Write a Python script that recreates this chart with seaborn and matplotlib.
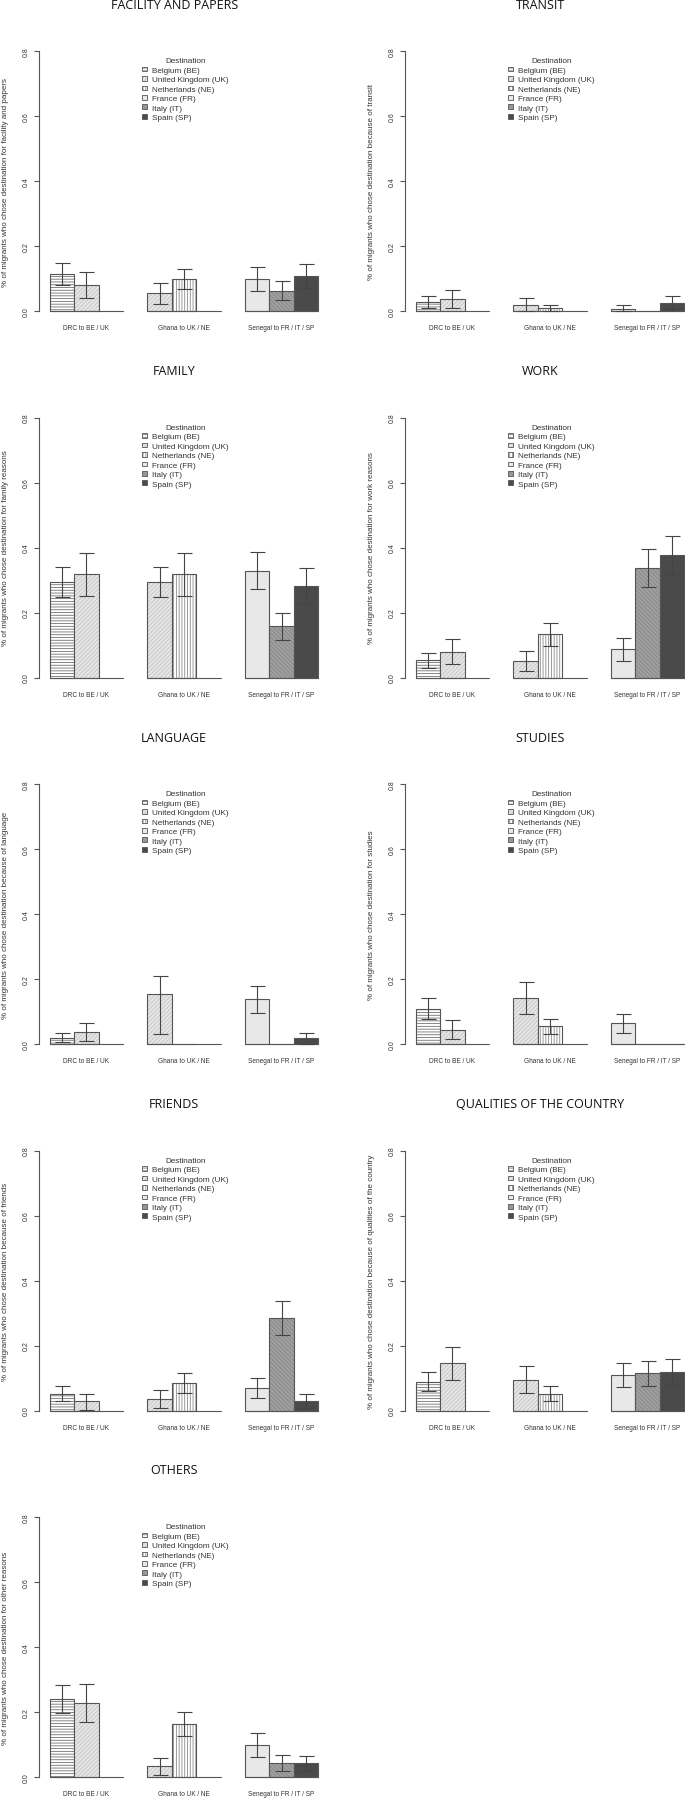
import numpy as np
import pandas as pd
import matplotlib
matplotlib.use("Agg")
import matplotlib.pyplot as plt
from matplotlib.patches import Patch
from matplotlib.colors import to_rgba
import seaborn as sns

sns.set_style("white")
plt.rcParams['font.family'] = ['Liberation Sans', 'DejaVu Sans']
plt.rcParams['hatch.linewidth'] = 0.6

groups = ["DRC to BE / UK", "Ghana to UK / NE", "Senegal to FR / IT / SP"]
destinations = ["Belgium (BE)", "United Kingdom (UK)", "Netherlands (NE)",
                "France (FR)", "Italy (IT)", "Spain (SP)"]

# one entry per bar: which origin group, which slot in the group, which destination
bar_group = [0, 0, 1, 1, 2, 2, 2]
bar_slot = [0, 1, 0, 1, 0, 1, 2]
bar_dest = [0, 1, 1, 2, 3, 4, 5]

titles = ["FACILITY AND PAPERS", "TRANSIT", "FAMILY", "WORK", "LANGUAGE",
          "STUDIES", "FRIENDS", "QUALITIES OF THE COUNTRY", "OTHERS"]
ylabels = [
    "% of migrants who chose destination for facility and papers",
    "% of migrants who chose destination because of transit",
    "% of migrants who chose destination for family reasons",
    "% of migrants who chose destination for work reasons",
    "% of migrants who chose destination because of language",
    "% of migrants who chose destination for studies",
    "% of migrants who chose destination because of friends",
    "% of migrants who chose destination because of qualities of the country",
    "% of migrants who chose destination for other reasons",
]

yticks = [0.0, 0.2, 0.4, 0.6, 0.8]
ytick_labels = ["0.0", "0.2", "0.4", "0.6", "0.8"]

# shares with lower / upper bounds (nan = no error bar)
facility = [0.114, 0.081, 0.054, 0.098, 0.098, 0.063, 0.107]
facility_lo = [0.081, 0.041, 0.023, 0.068, 0.062, 0.034, 0.071]
facility_hi = [0.148, 0.119, 0.086, 0.129, 0.136, 0.091, 0.144]

transit = [0.029, 0.037, 0.018, 0.009, 0.007, 0.0, 0.026]
transit_lo = [0.010, 0.010, 0.0, 0.0, 0.0, np.nan, 0.006]
transit_hi = [0.047, 0.065, 0.039, 0.018, 0.017, np.nan, 0.045]

family = [0.295, 0.318, 0.295, 0.318, 0.327, 0.159, 0.281]
family_lo = [0.249, 0.252, 0.249, 0.252, 0.271, 0.115, 0.226]
family_hi = [0.340, 0.384, 0.340, 0.384, 0.385, 0.199, 0.336]

work = [0.053, 0.079, 0.051, 0.134, 0.087, 0.338, 0.376]
work_lo = [0.029, 0.042, 0.020, 0.098, 0.052, 0.280, 0.318]
work_hi = [0.075, 0.118, 0.083, 0.168, 0.122, 0.394, 0.435]

language = [0.018, 0.038, 0.155, 0.0, 0.137, 0.0, 0.017]
language_lo = [0.005, 0.009, 0.030, np.nan, 0.095, np.nan, 0.001]
language_hi = [0.034, 0.064, 0.208, np.nan, 0.179, np.nan, 0.033]

studies = [0.108, 0.043, 0.142, 0.056, 0.064, 0.0, 0.0]
studies_lo = [0.078, 0.014, 0.092, 0.031, 0.034, np.nan, np.nan]
studies_hi = [0.141, 0.073, 0.191, 0.077, 0.093, np.nan, np.nan]

friends = [0.051, 0.029, 0.036, 0.084, 0.069, 0.284, 0.030]
friends_lo = [0.028, 0.003, 0.008, 0.055, 0.038, 0.231, 0.008]
friends_hi = [0.074, 0.051, 0.062, 0.114, 0.099, 0.338, 0.050]

qualities = [0.089, 0.145, 0.095, 0.052, 0.109, 0.114, 0.120]
qualities_lo = [0.060, 0.095, 0.053, 0.029, 0.072, 0.076, 0.079]
qualities_hi = [0.118, 0.195, 0.138, 0.075, 0.147, 0.151, 0.159]

others = [0.240, 0.227, 0.033, 0.162, 0.099, 0.044, 0.043]
others_lo = [0.196, 0.168, 0.007, 0.126, 0.061, 0.018, 0.018]
others_hi = [0.282, 0.286, 0.058, 0.200, 0.136, 0.067, 0.066]

panels = [
    (facility, facility_lo, facility_hi),
    (transit, transit_lo, transit_hi),
    (family, family_lo, family_hi),
    (work, work_lo, work_hi),
    (language, language_lo, language_hi),
    (studies, studies_lo, studies_hi),
    (friends, friends_lo, friends_hi),
    (qualities, qualities_lo, qualities_hi),
    (others, others_lo, others_hi),
]

# styling of each destination
fills = {"Belgium (BE)": "#ffffff", "United Kingdom (UK)": "#e6e6e6",
         "Netherlands (NE)": "#ffffff", "France (FR)": "#e8e8e8",
         "Italy (IT)": "#a0a0a0", "Spain (SP)": "#4a4a4a"}
hatches = {"Belgium (BE)": "------", "United Kingdom (UK)": "////////",
           "Netherlands (NE)": "||||||", "France (FR)": "",
           "Italy (IT)": "\\\\\\\\\\\\\\\\", "Spain (SP)": ""}
hatch_cols = {"Belgium (BE)": "#707070", "United Kingdom (UK)": "#c4c4c4",
              "Netherlands (NE)": "#8a8a8a", "France (FR)": "#cccccc",
              "Italy (IT)": "#868686", "Spain (SP)": "#4a4a4a"}
edge = "#555555"


def set_hatch_color(p, c):
    if hasattr(p, "set_hatchcolor"):
        p.set_hatchcolor(c)
    else:
        p._hatch_color = to_rgba(c)
    p.stale = True


W, H = 685, 1799
fig = plt.figure(figsize=(W / 100, H / 100), dpi=100)

pos = np.array([4 * g + s + 0.5 for g, s in zip(bar_group, bar_slot)])
dest_names = [destinations[d] for d in bar_dest]
group_centers = [4 * g + 1.5 for g in range(len(groups))]

for i, (vals, lo, hi) in enumerate(panels):
    row, col = divmod(i, 2)
    x0 = 39 + 366 * col
    y_zero = 312 + 366.5 * row
    ax = fig.add_axes([x0 / W, 1 - (y_zero + 10.4) / H, 290 / W, 280.8 / H])

    df = pd.DataFrame({"pos": pos, "value": vals, "dest": dest_names})
    sns.barplot(data=df, x="pos", y="value", hue="dest", hue_order=destinations,
                palette=fills, native_scale=True, dodge=False, width=1,
                saturation=1, errorbar=None, edgecolor=edge, linewidth=0.8,
                legend=False, ax=ax)

    for bar in ax.patches:
        cx = bar.get_x() + bar.get_width() / 2
        d = dest_names[int(np.argmin(np.abs(pos - cx)))]
        bar.set_hatch(hatches[d])
        set_hatch_color(bar, hatch_cols[d])

    # baseline under each origin group
    for g in range(len(groups)):
        ax.plot([4 * g, 4 * g + 3], [0, 0], color=edge, lw=0.8, zorder=3)

    v = np.array(vals)
    lo = np.array(lo)
    hi = np.array(hi)
    m = ~np.isnan(lo)
    ax.errorbar(pos[m], v[m], yerr=[v[m] - lo[m], hi[m] - v[m]], fmt="none",
                ecolor="#444444", elinewidth=0.8, capsize=5.4, capthick=0.8,
                zorder=4)

    ax.set_xlim(-0.44, 11.44)
    ax.set_ylim(-0.032, 0.832)
    for s in ["top", "right", "bottom"]:
        ax.spines[s].set_visible(False)
    ax.spines["left"].set_bounds(0, 0.8)
    ax.spines["left"].set_color(edge)
    ax.spines["left"].set_linewidth(0.8)

    ax.set_yticks(yticks)
    ax.set_yticklabels(ytick_labels, rotation=90, va="center")
    ax.tick_params(axis="y", left=True, length=3.4, width=0.8, color=edge,
                   pad=3.5, labelsize=5, labelcolor="#333333")
    ax.set_xticks(group_centers)
    ax.set_xticklabels(groups)
    ax.tick_params(axis="x", bottom=True, length=0, pad=2.2, labelsize=4.7,
                   labelcolor="#333333")
    ax.set_xlabel("")
    ax.set_ylabel(ylabels[i], fontsize=5.8, color="#333333", va="center")
    ax.yaxis.set_label_coords(-0.115, 0.5)

    ax.text(0.466, 1 + 36.6 / 280.8, titles[i], transform=ax.transAxes,
            ha="center", va="center", fontsize=9,
            family=["Open Sans", "DejaVu Sans"], color="#111111")

    handles = [Patch(facecolor=fills[d], edgecolor=edge, hatch=hatches[d],
                     linewidth=0.6) for d in destinations]
    leg = ax.legend(handles, destinations, title="Destination",
                    loc="upper left", bbox_to_anchor=(0.355, 0.94),
                    frameon=False, fontsize=5.9, title_fontsize=5.9,
                    handlelength=0.65, handleheight=0.5, handletextpad=0.6,
                    labelspacing=0.27, borderpad=0, borderaxespad=0)
    for t in leg.get_texts():
        t.set_color("#333333")
    leg.get_title().set_color("#333333")
    for p, d in zip(leg.get_patches(), destinations):
        set_hatch_color(p, hatch_cols[d])

fig.savefig("out.png", dpi=100)
